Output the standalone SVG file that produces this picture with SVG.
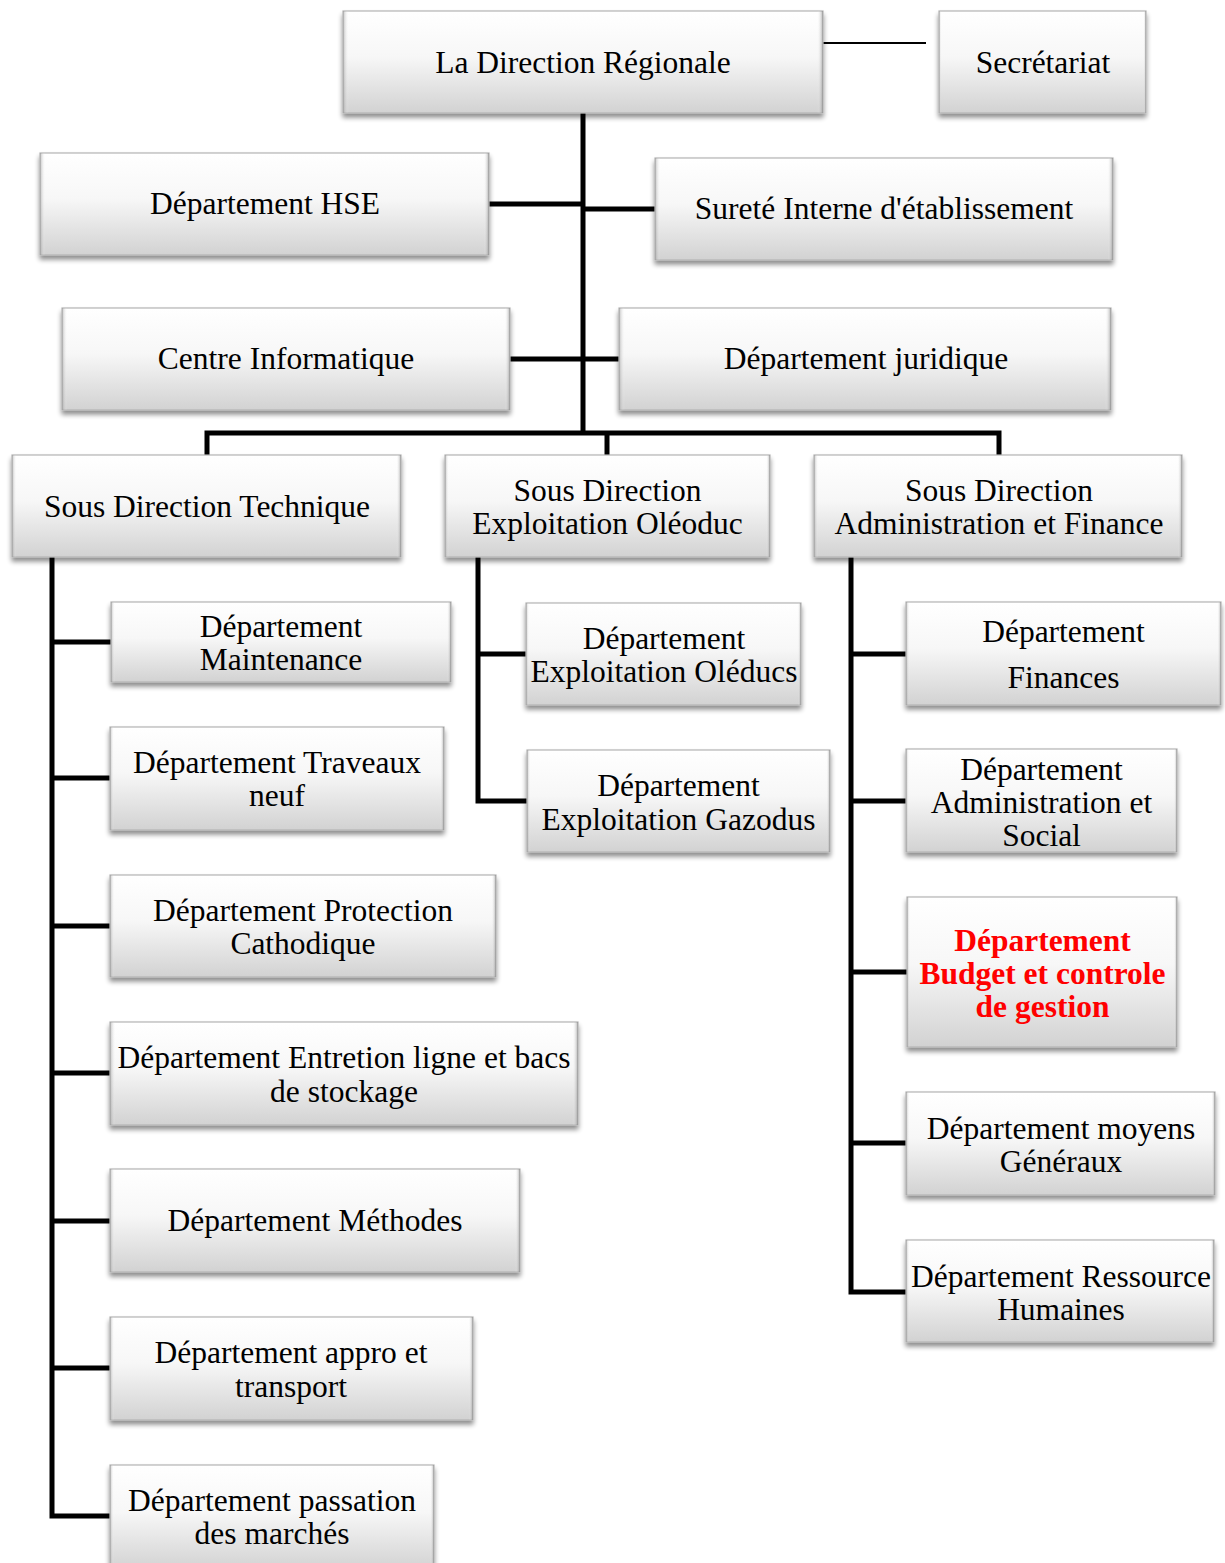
<svg xmlns="http://www.w3.org/2000/svg" width="1225" height="1563" viewBox="0 0 1225 1563">
  <defs>
    <linearGradient id="boxFill" x1="0" y1="0" x2="0" y2="1">
      <stop offset="0" stop-color="#ffffff"/>
      <stop offset="0.45" stop-color="#f7f7f7"/>
      <stop offset="1" stop-color="#d2d2d2"/>
    </linearGradient>
    <linearGradient id="bevel" x1="0" y1="0" x2="1" y2="0">
      <stop offset="0" stop-color="#8a8a8a" stop-opacity="0.55"/>
      <stop offset="0.012" stop-color="#ffffff" stop-opacity="0"/>
      <stop offset="0.988" stop-color="#ffffff" stop-opacity="0"/>
      <stop offset="1" stop-color="#7a7a7a" stop-opacity="0.6"/>
    </linearGradient>
    <filter id="shadow" x="-5%" y="-10%" width="110%" height="130%">
      <feGaussianBlur in="SourceAlpha" stdDeviation="2.5"/>
      <feOffset dx="0" dy="4" result="b"/>
      <feComponentTransfer><feFuncA type="linear" slope="0.45"/></feComponentTransfer>
      <feMerge><feMergeNode/><feMergeNode in="SourceGraphic"/></feMerge>
    </filter>
  </defs>
  <style>
    .box { fill: url(#boxFill); stroke: #b4b4b4; stroke-width: 1.2; filter: url(#shadow); }
    .bev { fill: url(#bevel); }
    .lbl { font-family: "Liberation Serif", "Times New Roman", serif; font-size: 31.5px; fill: #000; text-anchor: middle; }
    .hot { fill: #ff0000; font-weight: bold; }
    .link { fill: none; stroke: #000; stroke-width: 5; stroke-linejoin: miter; }
    .thin { fill: none; stroke: #000; stroke-width: 2; }
  </style>

  <rect width="1225" height="1563" fill="#ffffff"/>

  <!-- connectors -->
  <g id="connectors">
    <line class="thin" x1="823" y1="43" x2="926" y2="43"/>
    <path class="link" d="M583 113 V433"/>
    <path class="link" d="M489 204 H583"/>
    <path class="link" d="M583 209 H655"/>
    <path class="link" d="M510 359 H619"/>
    <path class="link" d="M207 455 V433 H999 V455"/>
    <path class="link" d="M607 433 V455"/>
    <!-- Sous Direction Technique -->
    <path class="link" d="M52 557 V1516 H110"/>
    <path class="link" d="M52 642 H111"/>
    <path class="link" d="M52 778 H110"/>
    <path class="link" d="M52 926 H110"/>
    <path class="link" d="M52 1073 H110"/>
    <path class="link" d="M52 1221 H110"/>
    <path class="link" d="M52 1368 H110"/>
    <!-- Sous Direction Exploitation -->
    <path class="link" d="M478 557 V801 H527"/>
    <path class="link" d="M478 654 H526"/>
    <!-- Sous Direction Administration -->
    <path class="link" d="M851 557 V1292 H906"/>
    <path class="link" d="M851 654 H906"/>
    <path class="link" d="M851 801 H906"/>
    <path class="link" d="M851 972 H907"/>
    <path class="link" d="M851 1143 H906"/>
  </g>

  <!-- top level -->
  <g id="direction-regionale">
    <rect class="box" x="343" y="11" width="480" height="102"/>
    <rect class="bev" x="343" y="11" width="480" height="102"/>
    <text class="lbl" x="583" y="73">La Direction Régionale</text>
  </g>
  <g id="secretariat">
    <rect class="box" x="939" y="11" width="207" height="102"/>
    <rect class="bev" x="939" y="11" width="207" height="102"/>
    <text class="lbl" x="1043" y="73">Secrétariat</text>
  </g>
  <g id="dep-hse">
    <rect class="box" x="40" y="153" width="449" height="102"/>
    <rect class="bev" x="40" y="153" width="449" height="102"/>
    <text class="lbl" x="265" y="214">Département HSE</text>
  </g>
  <g id="surete">
    <rect class="box" x="655" y="158" width="458" height="102"/>
    <rect class="bev" x="655" y="158" width="458" height="102"/>
    <text class="lbl" x="884" y="219">Sureté Interne d'établissement</text>
  </g>
  <g id="centre-informatique">
    <rect class="box" x="62" y="308" width="448" height="102"/>
    <rect class="bev" x="62" y="308" width="448" height="102"/>
    <text class="lbl" x="286" y="369">Centre Informatique</text>
  </g>
  <g id="dep-juridique">
    <rect class="box" x="619" y="308" width="492" height="102"/>
    <rect class="bev" x="619" y="308" width="492" height="102"/>
    <text class="lbl" x="866" y="369">Département juridique</text>
  </g>

  <!-- sous-directions -->
  <g id="sd-technique">
    <rect class="box" x="12" y="455" width="389" height="102"/>
    <rect class="bev" x="12" y="455" width="389" height="102"/>
    <text class="lbl" x="207" y="517">Sous Direction Technique</text>
  </g>
  <g id="sd-exploitation">
    <rect class="box" x="445" y="455" width="325" height="102"/>
    <rect class="bev" x="445" y="455" width="325" height="102"/>
    <text class="lbl" x="607.5" y="501">Sous Direction</text>
    <text class="lbl" x="607.5" y="534">Exploitation Oléoduc</text>
  </g>
  <g id="sd-administration">
    <rect class="box" x="814" y="455" width="368" height="102"/>
    <rect class="bev" x="814" y="455" width="368" height="102"/>
    <text class="lbl" x="999" y="501">Sous Direction</text>
    <text class="lbl" x="999" y="534">Administration et Finance</text>
  </g>

  <!-- technique departments -->
  <g id="dep-maintenance">
    <rect class="box" x="111" y="602" width="340" height="80"/>
    <rect class="bev" x="111" y="602" width="340" height="80"/>
    <text class="lbl" x="281" y="637">Département</text>
    <text class="lbl" x="281" y="670">Maintenance</text>
  </g>
  <g id="dep-travaux">
    <rect class="box" x="110" y="727" width="334" height="103"/>
    <rect class="bev" x="110" y="727" width="334" height="103"/>
    <text class="lbl" x="277" y="773">Département Traveaux</text>
    <text class="lbl" x="277" y="806">neuf</text>
  </g>
  <g id="dep-protection">
    <rect class="box" x="110" y="875" width="386" height="102"/>
    <rect class="bev" x="110" y="875" width="386" height="102"/>
    <text class="lbl" x="303" y="921">Département Protection</text>
    <text class="lbl" x="303" y="954">Cathodique</text>
  </g>
  <g id="dep-entretion">
    <rect class="box" x="110" y="1022" width="468" height="103"/>
    <rect class="bev" x="110" y="1022" width="468" height="103"/>
    <text class="lbl" x="344" y="1068">Département Entretion ligne et bacs</text>
    <text class="lbl" x="344" y="1102">de stockage</text>
  </g>
  <g id="dep-methodes">
    <rect class="box" x="110" y="1169" width="410" height="103"/>
    <rect class="bev" x="110" y="1169" width="410" height="103"/>
    <text class="lbl" x="315" y="1231">Département Méthodes</text>
  </g>
  <g id="dep-appro">
    <rect class="box" x="110" y="1317" width="363" height="103"/>
    <rect class="bev" x="110" y="1317" width="363" height="103"/>
    <text class="lbl" x="291" y="1363">Département appro et</text>
    <text class="lbl" x="291" y="1397">transport</text>
  </g>
  <g id="dep-passation">
    <rect class="box" x="110" y="1465" width="324" height="105"/>
    <rect class="bev" x="110" y="1465" width="324" height="105"/>
    <text class="lbl" x="272" y="1511">Département passation</text>
    <text class="lbl" x="272" y="1544">des marchés</text>
  </g>

  <!-- exploitation departments -->
  <g id="dep-oleducs">
    <rect class="box" x="526" y="603" width="275" height="102"/>
    <rect class="bev" x="526" y="603" width="275" height="102"/>
    <text class="lbl" x="664" y="649">Département</text>
    <text class="lbl" x="664" y="682">Exploitation Oléducs</text>
  </g>
  <g id="dep-gazodus">
    <rect class="box" x="527" y="750" width="303" height="102"/>
    <rect class="bev" x="527" y="750" width="303" height="102"/>
    <text class="lbl" x="678.5" y="796">Département</text>
    <text class="lbl" x="678.5" y="830">Exploitation Gazodus</text>
  </g>

  <!-- administration departments -->
  <g id="dep-finances">
    <rect class="box" x="906" y="602" width="315" height="103"/>
    <rect class="bev" x="906" y="602" width="315" height="103"/>
    <text class="lbl" x="1063.5" y="642">Département</text>
    <text class="lbl" x="1063.5" y="688">Finances</text>
  </g>
  <g id="dep-admin-social">
    <rect class="box" x="906" y="749" width="271" height="103"/>
    <rect class="bev" x="906" y="749" width="271" height="103"/>
    <text class="lbl" x="1041.5" y="780">Département</text>
    <text class="lbl" x="1041.5" y="813">Administration et</text>
    <text class="lbl" x="1041.5" y="846">Social</text>
  </g>
  <g id="dep-budget">
    <rect class="box" x="907" y="897" width="270" height="150"/>
    <rect class="bev" x="907" y="897" width="270" height="150"/>
    <text class="lbl hot" x="1042.5" y="951">Département</text>
    <text class="lbl hot" x="1042.5" y="984">Budget et controle</text>
    <text class="lbl hot" x="1042.5" y="1017">de gestion</text>
  </g>
  <g id="dep-moyens">
    <rect class="box" x="906" y="1092" width="309" height="103"/>
    <rect class="bev" x="906" y="1092" width="309" height="103"/>
    <text class="lbl" x="1061" y="1139">Département moyens</text>
    <text class="lbl" x="1061" y="1172">Généraux</text>
  </g>
  <g id="dep-rh">
    <rect class="box" x="906" y="1240" width="308" height="102"/>
    <rect class="bev" x="906" y="1240" width="308" height="102"/>
    <text class="lbl" x="1061" y="1287">Département Ressource</text>
    <text class="lbl" x="1061" y="1320">Humaines</text>
  </g>
</svg>
